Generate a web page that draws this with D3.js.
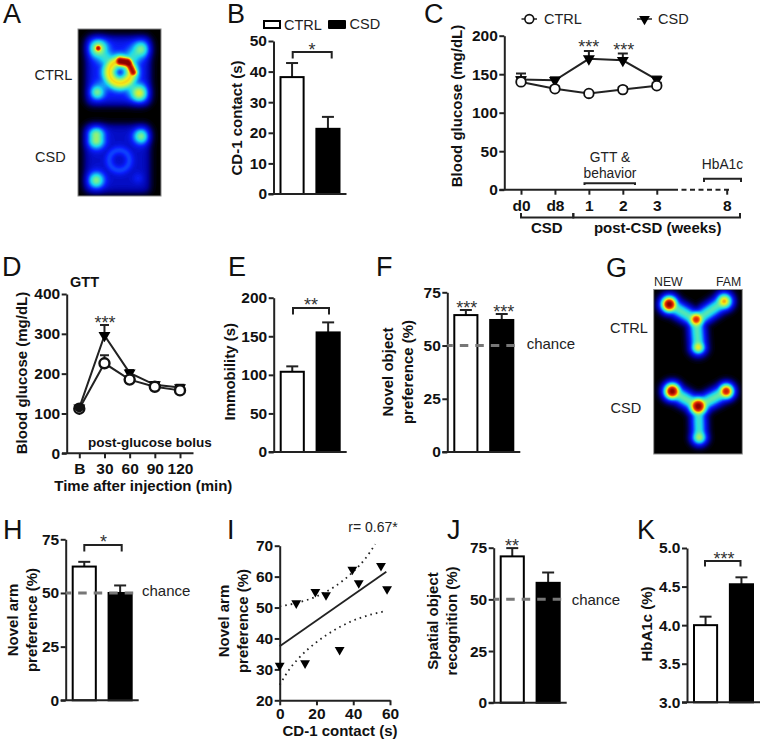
<!DOCTYPE html>
<html>
<head>
<meta charset="utf-8">
<script src="https://cdnjs.cloudflare.com/ajax/libs/d3/7.8.5/d3.min.js"></script>
<style>
  html, body { margin: 0; padding: 0; background: #fff; }
  svg { display: block; font-family: "Liberation Sans", Arial, sans-serif; }
  .tick text { font-weight: bold; font-size: 15.5px; fill: #111; }
  .tick line, .axisline { stroke: #222; stroke-width: 2; fill: none; }
  .title { font-weight: bold; font-size: 15px; fill: #111; }
  .plain { font-size: 14.5px; fill: #222; }
  .letter { font-size: 27px; fill: #111; }
  .stars { font-size: 18px; fill: #333; text-anchor: middle; }
</style>
</head>
<body>
<svg id="fig" width="762" height="741"></svg>
<script>
// group names
const groups = ['CTRL', 'CSD'];

// bar panels: mean and top of error bar for CTRL, CSD
const contactMean = [38.2, 21.3], contactTop = [42.8, 25.2];
const immobilityMean = [104, 155], immobilityTop = [111, 168];
const objectMean = [64.3, 62], objectTop = [66.7, 64.8];
const armMean = [62.3, 50], armTop = [64.5, 53.5];
const spatialMean = [70.8, 58], spatialTop = [74.8, 63];
const hba1cMean = [4.0, 4.53], hba1cTop = [4.11, 4.62];

// panel C, blood glucose across weeks
const weekLabels = ['d0', 'd8', '1', '2', '3', '8'];
const weekPos = [0, 1, 2, 3, 4, 6.06];
const glucoseCtrl = [140, 131, 125, 130, 135];
const glucoseCtrlTop = [146, 134, 127, 133, 139];
const glucoseCsd = [143, 142, 170, 168, 143];
const glucoseCsdTop = [151, 146, 180, 177, 147];

// panel D, glucose tolerance test
const gttLabels = ['B', '30', '60', '90', '120'];
const gttCtrl = [112, 226, 185, 167, 158];
const gttCtrlTop = [118, 246, 192, 173, 164];
const gttCsd = [114, 296, 202, 172, 165];
const gttCsdTop = [118, 322, 209, 179, 172];

// panel I, scatter with fit and confidence band
const scatterX = [0, 9, 13.8, 19.4, 25.2, 32.6, 39.5, 43, 55.1, 58.4];
const scatterY = [31.2, 51.4, 32, 55.1, 54, 36.3, 62.3, 57.9, 63.5, 56];
const fitX = [0, 58], fitY = [37.5, 61.6];
const bandUpperX = [0, 10, 20, 30, 40, 46, 52];
const bandUpperY = [50.4, 51.6, 53.6, 56.8, 61.6, 65.4, 70.5];
const bandLowerX = [0, 5, 10, 20, 30, 40, 50, 58];
const bandLowerY = [25, 29.8, 33.4, 38.8, 42.8, 45.8, 47.8, 48.9];

// heat maps: [x1, y1, x2, y2, spread, strength] streaks in page pixels (dots when both ends match)
const openFieldCtrl = [
  [98, 48, 98, 48, 6.5, 0.42], [98, 48, 98, 48, 2.4, 0.72], [141, 49, 141, 49, 6, 0.33],
  [97, 92, 97, 92, 5, 0.32], [139, 93, 139, 93, 6, 0.44],
  [100, 52, 112, 64, 6, 0.24], [137, 52, 128, 62, 6, 0.24], [100, 88, 110, 80, 5.5, 0.14], [135, 90, 127, 81, 6, 0.24],
  [120, 61, 127, 62, 3.6, 0.8], [129, 64, 133, 72, 3, 0.7]
];
const openFieldCsd = [
  [96, 135, 96, 140, 6, 0.42], [141, 136, 141, 136, 5.6, 0.39],
  [96, 180, 96, 180, 5.8, 0.39], [138, 178, 138, 178, 4, 0.06]
];
// ring: [cx, cy, radius, spread, strength]
const ringsCtrl = [[120, 72, 11, 5, 0.47]];
const ringsCsd = [[119, 160, 10, 3.4, 0.11]];
// floor: [x0, y0, x1, y1, level]
const floorCtrl = [[87, 37, 149, 104, 0.23]];
const floorCsd = [[85, 125, 149, 192, 0.17]];

const yMazeCtrl = [
  [669, 304, 669, 304, 6, 1], [669, 304, 696, 320, 6, 0.5], [724, 301, 696, 320, 6, 0.5],
  [724, 301, 724, 301, 6, 0.7], [696, 320, 698, 347, 6, 0.5], [698, 347, 698, 347, 5, 0.62],
  [696, 319, 696, 319, 5.5, 0.8]
];
const yMazeCsd = [
  [672, 391, 672, 391, 6, 1], [672, 391, 698, 406, 6, 0.52], [726, 391, 698, 406, 6, 0.52],
  [726, 391, 726, 391, 5.6, 0.88], [698, 406, 699, 437, 5.6, 0.47], [699, 437, 699, 437, 5.6, 0.54],
  [698, 406, 698, 406, 6.5, 0.98]
];

const svg = d3.select('#fig');

// jet style ramp running from black through blue and cyan to dark red
const jet = d3.scaleLinear()
  .domain([0, 0.1, 0.24, 0.42, 0.55, 0.68, 0.82, 1])
  .range(['#000000', '#00009a', '#0a1fff', '#19d8f0', '#7cf08c', '#f4ee1a', '#f03a08', '#8c0000'])
  .clamp(true);

function streakDist(px, py, s) {
  const dx = s[2] - s[0], dy = s[3] - s[1];
  const len = dx * dx + dy * dy;
  let t = len ? ((px - s[0]) * dx + (py - s[1]) * dy) / len : 0;
  t = Math.max(0, Math.min(1, t));
  const ex = px - (s[0] + t * dx), ey = py - (s[1] + t * dy);
  return ex * ex + ey * ey;
}

// draw a heat map with filled contours from the spots above
function heatmap(box, streaks, rings, floors) {
  const res = 2, p = 4;
  const nx = box.w * res, ny = box.h * res;
  const values = new Float64Array(nx * ny);
  const edge = v => 1 / (1 + Math.exp(-v / 2.6));
  for (let j = 0; j < ny; j++) {
    for (let i = 0; i < nx; i++) {
      const px = box.x + i / res, py = box.y + j / res;
      // spots merge softly, the floor sits under them
      let sum = 0, base = 0;
      floors.forEach(f => {
        base += f[4] * edge(px - f[0]) * edge(f[2] - px) * edge(py - f[1]) * edge(f[3] - py);
      });
      streaks.forEach(s => {
        sum += Math.pow(s[5] * Math.exp(-streakDist(px, py, s) / (2 * s[4] * s[4])), p);
      });
      rings.forEach(r => {
        const d = Math.hypot(px - r[0], py - r[1]) - r[2];
        sum += Math.pow(r[4] * Math.exp(-d * d / (2 * r[3] * r[3])), p);
      });
      values[j * nx + i] = base + Math.pow(sum, 1 / p);
    }
  }
  const g = svg.append('g').attr('transform', `translate(${box.x},${box.y}) scale(${1 / res})`);
  const thresholds = d3.range(0.01, 1.01, 0.0125);
  g.append('rect').attr('width', nx).attr('height', ny).attr('fill', '#000');
  g.selectAll('path')
    .data(d3.contours().size([nx, ny]).thresholds(thresholds)(values))
    .join('path')
    .attr('d', d3.geoPath())
    .attr('fill', d => jet(d.value));
}

function letter(t, x, y) {
  svg.append('text').attr('class', 'letter').attr('x', x).attr('y', y).text(t);
}

function plain(t, x, y, anchor, size) {
  return svg.append('text').attr('class', 'plain').attr('x', x).attr('y', y)
    .attr('text-anchor', anchor || 'start').style('font-size', size ? size + 'px' : null).text(t);
}

function boldText(t, x, y, size) {
  svg.append('text').attr('class', 'title').attr('x', x).attr('y', y)
    .attr('text-anchor', 'middle').style('font-size', size ? size + 'px' : null).text(t);
}

// vertical axis title, x is the text baseline
function yTitle(t, x, y) {
  svg.append('text').attr('class', 'title')
    .attr('transform', `translate(${x},${y}) rotate(-90)`)
    .attr('text-anchor', 'middle').text(t);
}

function stars(n, cx, top) {
  svg.append('text').attr('class', 'stars').attr('x', cx).attr('y', top + 13).text('*'.repeat(n));
}

function bracket(x1, x2, top, bottom) {
  const p = d3.path();
  p.moveTo(x1, bottom); p.lineTo(x1, top); p.lineTo(x2, top); p.lineTo(x2, bottom);
  svg.append('path').attr('class', 'axisline').attr('d', p.toString());
}

function yAxis(y, x, ticks, fmt) {
  const g = svg.append('g').attr('transform', `translate(${x},0)`)
    .call(d3.axisLeft(y).tickValues(ticks).tickSize(5).tickSizeOuter(0).tickPadding(1.5).tickFormat(fmt || d3.format('d')));
  g.select('.domain').attr('class', 'axisline');
  return g;
}

function chanceLine(x1, x2, y) {
  svg.append('line').attr('x1', x1).attr('x2', x2).attr('y1', y).attr('y2', y)
    .attr('stroke', '#777').attr('stroke-width', 3)
    .attr('stroke-dasharray', '8.5 7').attr('stroke-dashoffset', 3);
}

// standard two bar panel
function barPanel(p) {
  const y = d3.scaleLinear().domain(p.domain).range([p.y0, p.y1]);
  const x = d3.scaleBand().domain(groups).range([p.x + 6, p.x + 67]).paddingInner(0.3);
  const zero = p.domain[0];
  const g = svg.append('g');
  // error bars under the bars
  const barW = x.bandwidth();
  groups.forEach((name, i) => {
    const cx = x(name) + barW / 2;
    g.append('line').attr('class', 'axisline').attr('x1', cx).attr('x2', cx)
      .attr('y1', y(p.mean[i])).attr('y2', y(p.top[i]));
    g.append('line').attr('class', 'axisline').attr('x1', cx - 6).attr('x2', cx + 6)
      .attr('y1', y(p.top[i])).attr('y2', y(p.top[i]));
  });
  g.selectAll('rect').data(groups).join('rect')
    .attr('x', d => x(d) + 1)
    .attr('width', barW - 2)
    .attr('y', (d, i) => y(p.mean[i]))
    .attr('height', (d, i) => y(zero) - y(p.mean[i]))
    .attr('fill', d => d === 'CTRL' ? '#fff' : '#000')
    .attr('stroke', '#000').attr('stroke-width', 2);
  yAxis(y, p.x, p.ticks, p.fmt);
  svg.append('line').attr('class', 'axisline').attr('x1', p.x - 5).attr('x2', p.x + 73)
    .attr('y1', p.y0).attr('y2', p.y0);
  return { x, y };
}

function triangle(sel, size) {
  sel.attr('d', d3.symbol().type(d3.symbolTriangle).size(size)());
}

function lineSeries(x, y, ctrl, ctrlTop, csd, csdTop, capW, radius, strokeW) {
  const g = svg.append('g');
  const line = d3.line().x(d => d.x).y(d => d.y);
  const pts = (v, t) => v.map((d, i) => ({ x: x(i), y: y(d), top: y(t[i]) }));
  [pts(csd, csdTop), pts(ctrl, ctrlTop)].forEach(s => {
    g.selectAll(null).data(s).join('path').attr('class', 'axisline')
      .attr('d', d => `M${d.x - capW},${d.top}H${d.x + capW}M${d.x},${d.top}V${d.y}`);
    g.append('path').attr('class', 'axisline').attr('d', line(s));
  });
  g.selectAll(null).data(pts(csd, csdTop)).join('path')
    .call(triangle, 62).attr('fill', '#000')
    .attr('transform', d => `translate(${d.x},${d.y}) rotate(180)`);
  g.selectAll(null).data(pts(ctrl, ctrlTop)).join('circle')
    .attr('cx', d => d.x).attr('cy', d => d.y).attr('r', radius)
    .attr('fill', '#fff').attr('stroke', '#111').attr('stroke-width', strokeW);
}

// ---- panel A
letter('A', 3, 23);
heatmap({ x: 78, y: 29, w: 83, h: 84 }, openFieldCtrl, ringsCtrl, floorCtrl);
heatmap({ x: 78, y: 113, w: 83, h: 83 }, openFieldCsd, ringsCsd, floorCsd);
svg.append('rect').attr('x', 78).attr('y', 29).attr('width', 83).attr('height', 167)
  .attr('fill', 'none').attr('stroke', '#888');
plain('CTRL', 34.5, 80);
plain('CSD', 35, 162);

// ---- panel B
letter('B', 227, 23);
svg.append('rect').attr('x', 264).attr('y', 21).attr('width', 16).attr('height', 7)
  .attr('fill', '#fff').attr('stroke', '#000').attr('stroke-width', 2);
svg.append('rect').attr('x', 328).attr('y', 20).attr('width', 18).attr('height', 9).attr('rx', 1).attr('fill', '#000');
plain('CTRL', 284, 29.5);
plain('CSD', 349.5, 29);
barPanel({ x: 273.5, domain: [0, 50], y0: 194, y1: 41, ticks: [0, 10, 20, 30, 40, 50], mean: contactMean, top: contactTop });
bracket(292.7, 331.7, 52, 58.5);
stars(1, 312, 43);
yTitle('CD-1 contact (s)', 241.5, 118);

// ---- panel C
letter('C', 424, 23);
const yC = d3.scaleLinear().domain([0, 200]).range([189.7, 35.7]);
const xC = d3.scaleLinear().domain([0, 6.06]).range([521, 726.7]);
const axisC = svg.append('g').attr('transform', 'translate(0,189.7)')
  .call(d3.axisBottom(xC).tickValues(weekPos).tickSize(5).tickPadding(5).tickFormat((d, i) => weekLabels[i]));
axisC.select('.domain').remove();
yAxis(yC, 504.3, [0, 50, 100, 150, 200]);
svg.append('line').attr('class', 'axisline').attr('x1', 499.5).attr('x2', 673).attr('y1', 189.7).attr('y2', 189.7);
svg.append('line').attr('class', 'axisline').attr('x1', 673).attr('x2', 729).attr('y1', 189.7).attr('y2', 189.7)
  .attr('stroke-dasharray', '5 3.5');
lineSeries(i => xC(weekPos[i]), yC, glucoseCtrl, glucoseCtrlTop, glucoseCsd, glucoseCsdTop, 5, 4.8, 1.8);
stars(3, 588.7, 39.5);
stars(3, 623.7, 42.5);
yTitle('Blood glucose (mg/dL)', 462, 106);
plain('GTT &', 610, 161.5, 'middle', 13.8);
plain('behavior', 610, 177.5, 'middle', 13.8);
bracket(584.5, 635, 183.3, 185);
plain('HbA1c', 722.5, 169, 'middle', 13.8);
bracket(704, 741, 178.7, 182);
bracket(521, 573.3, 217.5, 213);
bracket(573.3, 740, 217.5, 213);
boldText('CSD', 546.8, 233);
boldText('post-CSD (weeks)', 657.7, 233);
// legend for C
svg.append('line').attr('class', 'axisline').attr('x1', 521.5).attr('x2', 537).attr('y1', 19).attr('y2', 19).style('stroke-width', 1.5);
svg.append('circle').attr('cx', 529.3).attr('cy', 19).attr('r', 4.4).attr('fill', '#fff').attr('stroke', '#111').attr('stroke-width', 1.6);
plain('CTRL', 544, 24);
svg.append('line').attr('class', 'axisline').attr('x1', 637).attr('x2', 652).attr('y1', 19).attr('y2', 19).style('stroke-width', 1.5);
svg.append('path').call(triangle, 50).attr('fill', '#000').attr('transform', 'translate(644.5,19) rotate(180)');
plain('CSD', 658, 24);

// ---- panel D
letter('D', 2, 276);
const yD = d3.scaleLinear().domain([0, 400]).range([453.3, 294]);
const xD = d3.scalePoint().domain(gttLabels).range([79.3, 180]);
const axisD = svg.append('g').attr('transform', 'translate(0,453.3)')
  .call(d3.axisBottom(xD).tickSize(5).tickPadding(5));
axisD.select('.domain').remove();
yAxis(yD, 66.7, [0, 100, 200, 300, 400]);
svg.append('line').attr('class', 'axisline').attr('x1', 62).attr('x2', 193.5).attr('y1', 453.3).attr('y2', 453.3);
lineSeries(i => xD(gttLabels[i]), yD, gttCtrl, gttCtrlTop, gttCsd, gttCsdTop, 4.5, 5, 2.4);
svg.append('circle').attr('cx', xD('B')).attr('cy', yD(gttCsd[0])).attr('r', 4.5).attr('fill', '#111');
stars(3, 105, 315.5);
yTitle('Blood glucose (mg/dL)', 26.5, 373);
svg.append('text').attr('class', 'title').attr('x', 70).attr('y', 286.5).style('font-size', '14.5px').text('GTT');
boldText('post-glucose bolus', 149.8, 447, 13.5);
boldText('Time after injection (min)', 143.3, 490.7);

// ---- panel E
letter('E', 228, 276);
barPanel({ x: 273.7, domain: [0, 200], y0: 452, y1: 297.7, ticks: [0, 50, 100, 150, 200], mean: immobilityMean, top: immobilityTop });
bracket(293, 329, 308, 314.5);
stars(2, 311, 297.5);
yTitle('Immobility (s)', 235, 371.7);

// ---- panel F
letter('F', 376, 276);
const panelF = barPanel({ x: 447.3, domain: [0, 75], y0: 452, y1: 292.3, ticks: [0, 25, 50, 75], mean: objectMean, top: objectTop });
chanceLine(447.3, 519, panelF.y(50));
plain('chance', 526.7, 349, 'start', 15);
stars(3, 466.7, 300.5);
stars(3, 503.7, 304.5);
yTitle('Novel object', 393, 372);
yTitle('preference (%)', 412.5, 372);

// ---- panel G
letter('G', 606, 276.5);
heatmap({ x: 654, y: 290, w: 88, h: 82 }, yMazeCtrl, [], []);
heatmap({ x: 654, y: 372, w: 88, h: 82 }, yMazeCsd, [], []);
svg.append('rect').attr('x', 653.7).attr('y', 289.5).attr('width', 88.6).attr('height', 164.5)
  .attr('fill', 'none').attr('stroke', '#888');
plain('NEW', 654, 286, 'start', 12.3);
plain('FAM', 716, 286, 'start', 12.3);
plain('CTRL', 610, 332.5);
plain('CSD', 610.5, 412.5);

// ---- panel H
letter('H', 3, 539);
const panelH = barPanel({ x: 65.7, domain: [0, 75], y0: 700.3, y1: 539.3, ticks: [0, 25, 50, 75], mean: armMean, top: armTop });
chanceLine(65.7, 138, panelH.y(50));
plain('chance', 142, 596, 'start', 15);
bracket(84.3, 121.7, 545, 551.5);
stars(1, 103.5, 535);
yTitle('Novel arm', 18.3, 620);
yTitle('preference (%)', 37.3, 620);

// ---- panel I
letter('I', 227, 539);
const yI = d3.scaleLinear().domain([20, 70]).range([700.3, 545.7]);
const xI = d3.scaleLinear().domain([0, 60]).range([279.7, 390]);
const axisI = svg.append('g').attr('transform', 'translate(0,700.3)')
  .call(d3.axisBottom(xI).tickValues([0, 20, 40, 60]).tickSize(5).tickSizeOuter(0).tickPadding(3));
axisI.select('.domain').attr('class', 'axisline');
yAxis(yI, 279.7, [20, 30, 40, 50, 60, 70]);
const lineI = d3.line().x(d => xI(d[0])).y(d => yI(d[1]));
svg.append('path').attr('class', 'axisline').style('stroke-width', 1.8).attr('d', lineI(d3.zip(fitX, fitY)));
const curveI = d3.line().curve(d3.curveMonotoneX).x(d => xI(d[0])).y(d => yI(d[1]));
[d3.zip(bandUpperX, bandUpperY), d3.zip(bandLowerX, bandLowerY)].forEach(b => {
  svg.append('path').attr('fill', 'none').attr('stroke', '#222').attr('stroke-width', 1.8)
    .attr('stroke-dasharray', '1.6 4').attr('d', curveI(b));
});
svg.append('g').selectAll('path').data(d3.zip(scatterX, scatterY)).join('path')
  .call(triangle, 42).attr('fill', '#000')
  .attr('transform', d => `translate(${xI(d[0])},${yI(d[1])}) rotate(180)`);
yTitle('Novel arm', 229, 621);
yTitle('preference (%)', 248.3, 621);
boldText('CD-1 contact (s)', 340, 735.5);
plain('r= 0.67*', 348.3, 532.3, 'start', 14);

// ---- panel J
letter('J', 447, 539);
const panelJ = barPanel({ x: 493.7, domain: [0, 75], y0: 702.7, y1: 547.7, ticks: [0, 25, 50, 75], mean: spatialMean, top: spatialTop });
chanceLine(493.7, 563, panelJ.y(50));
plain('chance', 571.7, 604.5, 'start', 15);
stars(2, 512, 539);
yTitle('Spatial object', 438.3, 621);
yTitle('recognition (%)', 457.3, 621);

// ---- panel K
letter('K', 637, 539);
barPanel({ x: 687, domain: [3, 5], y0: 702.3, y1: 548, ticks: [3, 3.5, 4, 4.5, 5], fmt: d3.format('.1f'), mean: hba1cMean, top: hba1cTop });
bracket(705, 740.5, 561, 566.5);
stars(3, 724, 552);
yTitle('HbA1c (%)', 652.3, 624);
</script>
</body>
</html>
